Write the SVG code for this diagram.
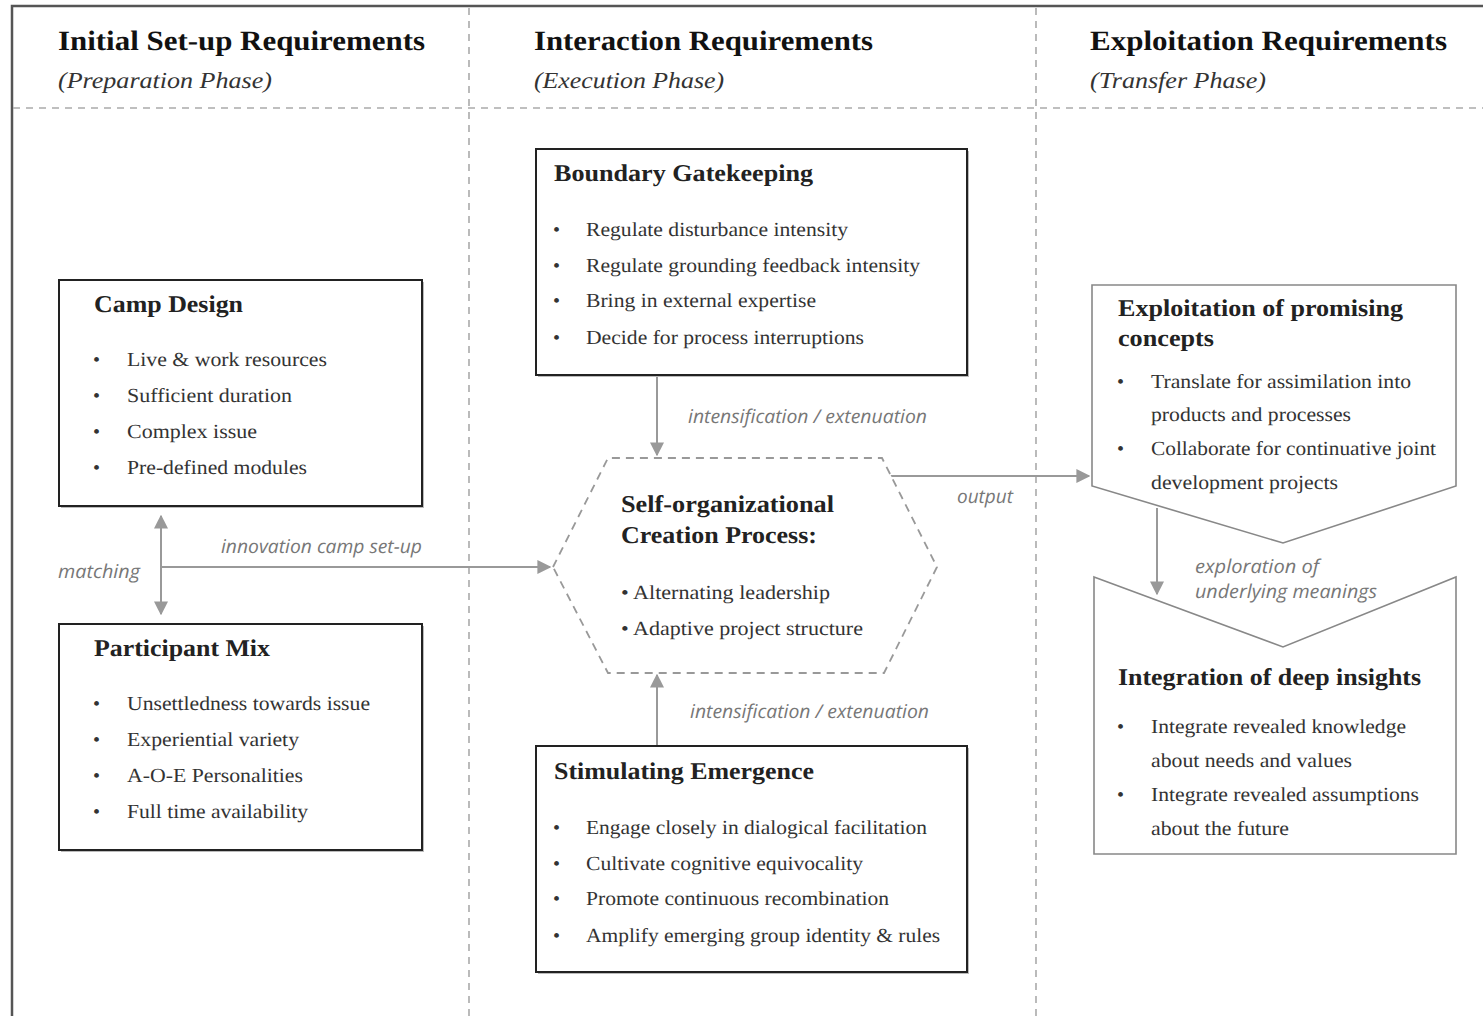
<svg xmlns="http://www.w3.org/2000/svg" width="1483" height="1016" viewBox="0 0 1483 1016">
<defs>
<style>
text{text-rendering:geometricPrecision}
.hd{font-family:"Liberation Serif","Times New Roman",serif;font-weight:bold;font-size:28px;fill:#111}
.ph{font-family:"Liberation Serif","Times New Roman",serif;font-style:italic;font-size:23px;fill:#333}
.bt{font-family:"Liberation Serif","Times New Roman",serif;font-weight:bold;font-size:24px;fill:#222}
.tx{font-family:"Liberation Serif","Times New Roman",serif;font-size:20px;fill:#333}
.lb{font-family:"Open Sans","Liberation Sans",sans-serif;font-style:italic;font-size:19px;fill:#777}
.box{fill:#fff;stroke:#222;stroke-width:2}
.shp{fill:#fff;stroke:#888;stroke-width:1.6}
.dsh{fill:none;stroke:#aaa;stroke-width:1.6;stroke-dasharray:7,6}
.con{fill:none;stroke:#999;stroke-width:2}
.sh{fill:#bbb}
</style>
<marker id="ah2" viewBox="0 0 10 10" refX="9" refY="5" markerWidth="14" markerHeight="14" markerUnits="userSpaceOnUse" orient="auto-start-reverse">
<path d="M0,0 L10,5 L0,10 z" fill="#999"/>
</marker>
</defs>
<rect width="1483" height="1016" fill="#fff"/>
<g id="frame">
<path d="M12,1016 L12,6 L1483,6" fill="none" stroke="#555" stroke-width="2.5"/>
<line class="dsh" x1="469" y1="8" x2="469" y2="1016"/>
<line class="dsh" x1="1036" y1="8" x2="1036" y2="1016"/>
<line class="dsh" x1="13" y1="108" x2="1483" y2="108"/>
</g>
<g id="headers">
<text class="hd" x="58" y="50" textLength="367" lengthAdjust="spacingAndGlyphs">Initial Set-up Requirements</text>
<text class="ph" x="58" y="88" textLength="214" lengthAdjust="spacingAndGlyphs">(Preparation Phase)</text>
<text class="hd" x="534" y="50" textLength="339" lengthAdjust="spacingAndGlyphs">Interaction Requirements</text>
<text class="ph" x="534" y="88" textLength="190" lengthAdjust="spacingAndGlyphs">(Execution Phase)</text>
<text class="hd" x="1090" y="50" textLength="357" lengthAdjust="spacingAndGlyphs">Exploitation Requirements</text>
<text class="ph" x="1090" y="88" textLength="176" lengthAdjust="spacingAndGlyphs">(Transfer Phase)</text>
</g>
<g id="connectors">
<line class="con" x1="161" y1="516" x2="161" y2="614" marker-start="url(#ah2)" marker-end="url(#ah2)"/>
<line class="con" x1="161" y1="567" x2="550" y2="567" marker-end="url(#ah2)"/>
<line class="con" x1="657" y1="377" x2="657" y2="455" marker-end="url(#ah2)"/>
<line class="con" x1="657" y1="745" x2="657" y2="675" marker-end="url(#ah2)"/>
<polyline class="con" points="890,476 1089,476" marker-end="url(#ah2)"/>
<line class="con" x1="1157" y1="508" x2="1157" y2="594" marker-end="url(#ah2)"/>
<text class="lb" x="58" y="578" textLength="82" lengthAdjust="spacingAndGlyphs">matching</text>
<text class="lb" x="221" y="553" textLength="201" lengthAdjust="spacingAndGlyphs">innovation camp set-up</text>
<text class="lb" x="688" y="423" textLength="239" lengthAdjust="spacingAndGlyphs">intensification / extenuation</text>
<text class="lb" x="690" y="718" textLength="239" lengthAdjust="spacingAndGlyphs">intensification / extenuation</text>
<text class="lb" x="957" y="503" textLength="56" lengthAdjust="spacingAndGlyphs">output</text>
<text class="lb" x="1195" y="573" textLength="124" lengthAdjust="spacingAndGlyphs">exploration of</text>
<text class="lb" x="1195" y="598" textLength="182" lengthAdjust="spacingAndGlyphs">underlying meanings</text>
</g>
<g id="camp-design">
<rect class="sh" x="61" y="282" width="363" height="226"/>
<rect class="box" x="59" y="280" width="363" height="226"/>
<text class="bt" x="94" y="312" textLength="149" lengthAdjust="spacingAndGlyphs">Camp Design</text>
<g class="tx">
<text x="93" y="366">•</text><text x="127" y="366" textLength="200" lengthAdjust="spacingAndGlyphs">Live &amp; work resources</text>
<text x="93" y="402">•</text><text x="127" y="402" textLength="165" lengthAdjust="spacingAndGlyphs">Sufficient duration</text>
<text x="93" y="438">•</text><text x="127" y="438" textLength="130" lengthAdjust="spacingAndGlyphs">Complex issue</text>
<text x="93" y="474">•</text><text x="127" y="474" textLength="180" lengthAdjust="spacingAndGlyphs">Pre-defined modules</text>
</g>
</g>
<g id="participant-mix">
<rect class="sh" x="61" y="626" width="363" height="226"/>
<rect class="box" x="59" y="624" width="363" height="226"/>
<text class="bt" x="94" y="656" textLength="176" lengthAdjust="spacingAndGlyphs">Participant Mix</text>
<g class="tx">
<text x="93" y="710">•</text><text x="127" y="710" textLength="243" lengthAdjust="spacingAndGlyphs">Unsettledness towards issue</text>
<text x="93" y="746">•</text><text x="127" y="746" textLength="172" lengthAdjust="spacingAndGlyphs">Experiential variety</text>
<text x="93" y="782">•</text><text x="127" y="782" textLength="176" lengthAdjust="spacingAndGlyphs">A-O-E Personalities</text>
<text x="93" y="818">•</text><text x="127" y="818" textLength="181" lengthAdjust="spacingAndGlyphs">Full time availability</text>
</g>
</g>
<g id="boundary-gatekeeping">
<rect class="sh" x="538" y="151" width="431" height="226"/>
<rect class="box" x="536" y="149" width="431" height="226"/>
<text class="bt" x="554" y="181" textLength="259" lengthAdjust="spacingAndGlyphs">Boundary Gatekeeping</text>
<g class="tx">
<text x="553" y="236">•</text><text x="586" y="236" textLength="262" lengthAdjust="spacingAndGlyphs">Regulate disturbance intensity</text>
<text x="553" y="272">•</text><text x="586" y="272" textLength="334" lengthAdjust="spacingAndGlyphs">Regulate grounding feedback intensity</text>
<text x="553" y="307">•</text><text x="586" y="307" textLength="230" lengthAdjust="spacingAndGlyphs">Bring in external expertise</text>
<text x="553" y="344">•</text><text x="586" y="344" textLength="278" lengthAdjust="spacingAndGlyphs">Decide for process interruptions</text>
</g>
</g>
<g id="stimulating-emergence">
<rect class="sh" x="538" y="748" width="431" height="226"/>
<rect class="box" x="536" y="746" width="431" height="226"/>
<text class="bt" x="554" y="779" textLength="260" lengthAdjust="spacingAndGlyphs">Stimulating Emergence</text>
<g class="tx">
<text x="553" y="834">•</text><text x="586" y="834" textLength="341" lengthAdjust="spacingAndGlyphs">Engage closely in dialogical facilitation</text>
<text x="553" y="870">•</text><text x="586" y="870" textLength="277" lengthAdjust="spacingAndGlyphs">Cultivate cognitive equivocality</text>
<text x="553" y="905">•</text><text x="586" y="905" textLength="303" lengthAdjust="spacingAndGlyphs">Promote continuous recombination</text>
<text x="553" y="942">•</text><text x="586" y="942" textLength="354" lengthAdjust="spacingAndGlyphs">Amplify emerging group identity &amp; rules</text>
</g>
</g>
<g id="creation-process">
<polygon points="553,567 608,458 882,458 937,567 884,673 608,673" fill="#fff" stroke="#999" stroke-width="1.8" stroke-dasharray="8,6"/>
<text class="bt" x="621" y="512" textLength="213" lengthAdjust="spacingAndGlyphs">Self-organizational</text>
<text class="bt" x="621" y="543" textLength="196" lengthAdjust="spacingAndGlyphs">Creation Process:</text>
<g class="tx">
<text x="621" y="599" textLength="209" lengthAdjust="spacingAndGlyphs">• Alternating leadership</text>
<text x="621" y="635" textLength="242" lengthAdjust="spacingAndGlyphs">• Adaptive project structure</text>
</g>
</g>
<g id="exploitation">
<polygon class="shp" points="1092,285 1456,285 1456,486 1283,543 1092,486"/>
<text class="bt" x="1118" y="316" textLength="285" lengthAdjust="spacingAndGlyphs">Exploitation of promising</text>
<text class="bt" x="1118" y="346" textLength="96" lengthAdjust="spacingAndGlyphs">concepts</text>
<g class="tx">
<text x="1117" y="388">•</text><text x="1151" y="388" textLength="260" lengthAdjust="spacingAndGlyphs">Translate for assimilation into</text>
<text x="1151" y="421" textLength="200" lengthAdjust="spacingAndGlyphs">products and processes</text>
<text x="1117" y="455">•</text><text x="1151" y="455" textLength="285" lengthAdjust="spacingAndGlyphs">Collaborate for continuative joint</text>
<text x="1151" y="489" textLength="187" lengthAdjust="spacingAndGlyphs">development projects</text>
</g>
</g>
<g id="integration">
<polygon class="shp" points="1094,577 1283,647 1456,577 1456,854 1094,854"/>
<text class="bt" x="1118" y="685" textLength="303" lengthAdjust="spacingAndGlyphs">Integration of deep insights</text>
<g class="tx">
<text x="1117" y="733">•</text><text x="1151" y="733" textLength="255" lengthAdjust="spacingAndGlyphs">Integrate revealed knowledge</text>
<text x="1151" y="767" textLength="201" lengthAdjust="spacingAndGlyphs">about needs and values</text>
<text x="1117" y="801">•</text><text x="1151" y="801" textLength="268" lengthAdjust="spacingAndGlyphs">Integrate revealed assumptions</text>
<text x="1151" y="835" textLength="138" lengthAdjust="spacingAndGlyphs">about the future</text>
</g>
</g>
</svg>
